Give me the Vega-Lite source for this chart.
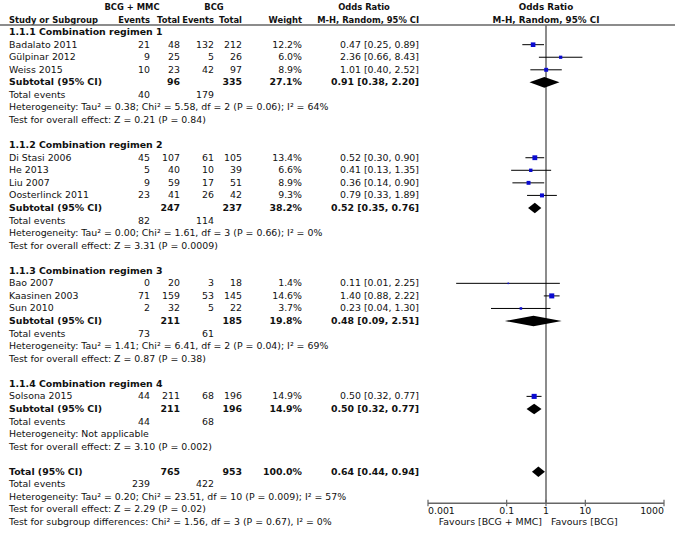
{
  "$schema": "https://vega.github.io/schema/vega-lite/v6.json",
  "width": 675,
  "height": 536,
  "padding": 0,
  "autosize": {"type": "none"},
  "background": "white",
  "config": {
    "view": {"stroke": null},
    "text": {"font": "DejaVu Sans", "fontSize": 9.4, "color": "#111"}
  },
  "datasets": {
    "rows": [
      {"row": 2, "type": "group", "label": "1.1.1 Combination regimen 1"},
      {"row": 3, "type": "study", "label": "Badalato 2011", "ev1": 21, "tot1": 48, "ev2": 132, "tot2": 212, "weight": 12.2, "or": 0.47, "lo": 0.25, "hi": 0.89},
      {"row": 4, "type": "study", "label": "Gülpinar 2012", "ev1": 9, "tot1": 25, "ev2": 5, "tot2": 26, "weight": 6.0, "or": 2.36, "lo": 0.66, "hi": 8.43},
      {"row": 5, "type": "study", "label": "Weiss 2015", "ev1": 10, "tot1": 23, "ev2": 42, "tot2": 97, "weight": 8.9, "or": 1.01, "lo": 0.40, "hi": 2.52},
      {"row": 6, "type": "subtotal", "label": "Subtotal (95% CI)", "tot1": 96, "tot2": 335, "weight": 27.1, "or": 0.91, "lo": 0.38, "hi": 2.20},
      {"row": 7, "type": "events", "label": "Total events", "ev1": 40, "ev2": 179},
      {"row": 8, "type": "note", "label": "Heterogeneity: Tau² = 0.38; Chi² = 5.58, df = 2 (P = 0.06); I² = 64%"},
      {"row": 9, "type": "note", "label": "Test for overall effect: Z = 0.21 (P = 0.84)"},
      {"row": 11, "type": "group", "label": "1.1.2 Combination regimen 2"},
      {"row": 12, "type": "study", "label": "Di Stasi 2006", "ev1": 45, "tot1": 107, "ev2": 61, "tot2": 105, "weight": 13.4, "or": 0.52, "lo": 0.30, "hi": 0.90},
      {"row": 13, "type": "study", "label": "He 2013", "ev1": 5, "tot1": 40, "ev2": 10, "tot2": 39, "weight": 6.6, "or": 0.41, "lo": 0.13, "hi": 1.35},
      {"row": 14, "type": "study", "label": "Liu 2007", "ev1": 9, "tot1": 59, "ev2": 17, "tot2": 51, "weight": 8.9, "or": 0.36, "lo": 0.14, "hi": 0.90},
      {"row": 15, "type": "study", "label": "Oosterlinck 2011", "ev1": 23, "tot1": 41, "ev2": 26, "tot2": 42, "weight": 9.3, "or": 0.79, "lo": 0.33, "hi": 1.89},
      {"row": 16, "type": "subtotal", "label": "Subtotal (95% CI)", "tot1": 247, "tot2": 237, "weight": 38.2, "or": 0.52, "lo": 0.35, "hi": 0.76},
      {"row": 17, "type": "events", "label": "Total events", "ev1": 82, "ev2": 114},
      {"row": 18, "type": "note", "label": "Heterogeneity: Tau² = 0.00; Chi² = 1.61, df = 3 (P = 0.66); I² = 0%"},
      {"row": 19, "type": "note", "label": "Test for overall effect: Z = 3.31 (P = 0.0009)"},
      {"row": 21, "type": "group", "label": "1.1.3 Combination regimen 3"},
      {"row": 22, "type": "study", "label": "Bao 2007", "ev1": 0, "tot1": 20, "ev2": 3, "tot2": 18, "weight": 1.4, "or": 0.11, "lo": 0.0052, "hi": 2.25},
      {"row": 23, "type": "study", "label": "Kaasinen 2003", "ev1": 71, "tot1": 159, "ev2": 53, "tot2": 145, "weight": 14.6, "or": 1.40, "lo": 0.88, "hi": 2.22},
      {"row": 24, "type": "study", "label": "Sun 2010", "ev1": 2, "tot1": 32, "ev2": 5, "tot2": 22, "weight": 3.7, "or": 0.23, "lo": 0.04, "hi": 1.30},
      {"row": 25, "type": "subtotal", "label": "Subtotal (95% CI)", "tot1": 211, "tot2": 185, "weight": 19.8, "or": 0.48, "lo": 0.09, "hi": 2.51},
      {"row": 26, "type": "events", "label": "Total events", "ev1": 73, "ev2": 61},
      {"row": 27, "type": "note", "label": "Heterogeneity: Tau² = 1.41; Chi² = 6.41, df = 2 (P = 0.04); I² = 69%"},
      {"row": 28, "type": "note", "label": "Test for overall effect: Z = 0.87 (P = 0.38)"},
      {"row": 30, "type": "group", "label": "1.1.4 Combination regimen 4"},
      {"row": 31, "type": "study", "label": "Solsona 2015", "ev1": 44, "tot1": 211, "ev2": 68, "tot2": 196, "weight": 14.9, "or": 0.50, "lo": 0.32, "hi": 0.77},
      {"row": 32, "type": "subtotal", "label": "Subtotal (95% CI)", "tot1": 211, "tot2": 196, "weight": 14.9, "or": 0.50, "lo": 0.32, "hi": 0.77},
      {"row": 33, "type": "events", "label": "Total events", "ev1": 44, "ev2": 68},
      {"row": 34, "type": "note", "label": "Heterogeneity: Not applicable"},
      {"row": 35, "type": "note", "label": "Test for overall effect: Z = 3.10 (P = 0.002)"},
      {"row": 37, "type": "total", "label": "Total (95% CI)", "tot1": 765, "tot2": 953, "weight": 100.0, "or": 0.64, "lo": 0.44, "hi": 0.94},
      {"row": 38, "type": "events", "label": "Total events", "ev1": 239, "ev2": 422},
      {"row": 39, "type": "note", "label": "Heterogeneity: Tau² = 0.20; Chi² = 23.51, df = 10 (P = 0.009); I² = 57%"},
      {"row": 40, "type": "note", "label": "Test for overall effect: Z = 2.29 (P = 0.02)"},
      {"row": 41, "type": "note", "label": "Test for subgroup differences: Chi² = 1.56, df = 3 (P = 0.67), I² = 0%"}
    ],
    "headers": [
      {"row": 0, "col": 1, "text": "BCG + MMC"},
      {"row": 0, "col": 4, "text": "BCG"},
      {"row": 0, "col": 7, "text": "Odds Ratio"},
      {"row": 1, "col": 0, "text": "Study or Subgroup"},
      {"row": 1, "col": 2, "text": "Events"},
      {"row": 1, "col": 3, "text": "Total"},
      {"row": 1, "col": 4, "text": "Events"},
      {"row": 1, "col": 5, "text": "Total"},
      {"row": 1, "col": 6, "text": "Weight"},
      {"row": 1, "col": 8, "text": "M-H, Random, 95% CI"}
    ],
    "plotHeaders": [
      {"row": 0, "text": "Odds Ratio"},
      {"row": 1, "text": "M-H, Random, 95% CI"}
    ],
    "ticks": [
      {"value": 0.001, "label": "0.001"},
      {"value": 0.1, "label": "0.1"},
      {"value": 1, "label": "1"},
      {"value": 10, "label": "10"},
      {"value": 1000, "label": "1000"}
    ],
    "favours": [
      {"side": "left", "label": "Favours [BCG + MMC]"},
      {"side": "right", "label": "Favours [BCG]"}
    ]
  },
  "resolve": {"scale": {"x": "independent"}},
  "layer": [
    {
      "layer": [
        {
          "data": {"name": "headers"},
          "mark": {"type": "text", "fontWeight": "bold", "fontSize": 8.4, "align": {"expr": "datum.row === 0 ? 'center' : datum.col === 0 ? 'left' : 'right'"}},
          "encoding": {
            "x": {"field": "col", "type": "quantitative", "scale": {"domain": [0, 1, 2, 3, 4, 5, 6, 7, 8], "range": [9, 132, 150, 180, 214, 242, 302, 364, 419], "nice": false, "zero": false}, "axis": null},
            "y": {"field": "row", "type": "quantitative", "scale": {"domain": [0, 41], "range": [7, 522], "nice": false, "zero": false}, "axis": null},
            "text": {"field": "text"}
          }
        },
        {
          "data": {"name": "rows"},
          "mark": {"type": "text", "align": "left", "fontWeight": {"expr": "datum.type === 'group' || datum.type === 'subtotal' || datum.type === 'total' ? 'bold' : 'normal'"}},
          "encoding": {
            "x": {"datum": 0, "type": "quantitative", "axis": null},
            "y": {"field": "row", "type": "quantitative", "axis": null},
            "text": {"field": "label"}
          }
        },
        {
          "data": {"name": "rows"},
          "transform": [{"filter": {"field": "ev1", "valid": true}}],
          "mark": {"type": "text", "align": "right"},
          "encoding": {
            "x": {"datum": 2, "type": "quantitative", "axis": null},
            "y": {"field": "row", "type": "quantitative", "axis": null},
            "text": {"field": "ev1", "type": "nominal"}
          }
        },
        {
          "data": {"name": "rows"},
          "transform": [{"filter": {"field": "tot1", "valid": true}}],
          "mark": {"type": "text", "align": "right", "fontWeight": {"expr": "datum.type === 'group' || datum.type === 'subtotal' || datum.type === 'total' ? 'bold' : 'normal'"}},
          "encoding": {
            "x": {"datum": 3, "type": "quantitative", "axis": null},
            "y": {"field": "row", "type": "quantitative", "axis": null},
            "text": {"field": "tot1", "type": "nominal"}
          }
        },
        {
          "data": {"name": "rows"},
          "transform": [{"filter": {"field": "ev2", "valid": true}}],
          "mark": {"type": "text", "align": "right"},
          "encoding": {
            "x": {"datum": 4, "type": "quantitative", "axis": null},
            "y": {"field": "row", "type": "quantitative", "axis": null},
            "text": {"field": "ev2", "type": "nominal"}
          }
        },
        {
          "data": {"name": "rows"},
          "transform": [{"filter": {"field": "tot2", "valid": true}}],
          "mark": {"type": "text", "align": "right", "fontWeight": {"expr": "datum.type === 'group' || datum.type === 'subtotal' || datum.type === 'total' ? 'bold' : 'normal'"}},
          "encoding": {
            "x": {"datum": 5, "type": "quantitative", "axis": null},
            "y": {"field": "row", "type": "quantitative", "axis": null},
            "text": {"field": "tot2", "type": "nominal"}
          }
        },
        {
          "data": {"name": "rows"},
          "transform": [
            {"filter": {"field": "weight", "valid": true}},
            {"calculate": "format(datum.weight, '.1f') + '%'", "as": "wtxt"}
          ],
          "mark": {"type": "text", "align": "right", "fontWeight": {"expr": "datum.type === 'group' || datum.type === 'subtotal' || datum.type === 'total' ? 'bold' : 'normal'"}},
          "encoding": {
            "x": {"datum": 6, "type": "quantitative", "axis": null},
            "y": {"field": "row", "type": "quantitative", "axis": null},
            "text": {"field": "wtxt", "type": "nominal"}
          }
        },
        {
          "data": {"name": "rows"},
          "transform": [
            {"filter": {"field": "or", "valid": true}},
            {"calculate": "format(datum.or, '.2f') + ' [' + format(datum.lo, '.2f') + ', ' + format(datum.hi, '.2f') + ']'", "as": "ortxt"}
          ],
          "mark": {"type": "text", "align": "right", "fontWeight": {"expr": "datum.type === 'group' || datum.type === 'subtotal' || datum.type === 'total' ? 'bold' : 'normal'"}},
          "encoding": {
            "x": {"datum": 8, "type": "quantitative", "axis": null},
            "y": {"field": "row", "type": "quantitative", "axis": null},
            "text": {"field": "ortxt", "type": "nominal"}
          }
        }
      ]
    },
    {
      "layer": [
        {
          "data": {"values": [{}]},
          "mark": {"type": "rule", "color": "#666", "strokeWidth": 1.5},
          "encoding": {
            "y": {"datum": 1.43, "type": "quantitative", "axis": null}
          }
        },
        {
          "data": {"values": [{}]},
          "mark": {"type": "rule", "color": "#666", "strokeWidth": 1.5},
          "encoding": {
            "x": {"datum": 1, "type": "quantitative", "scale": {"type": "log", "domain": [0.001, 1000], "range": [428, 664], "nice": false}, "axis": null},
            "y": {"datum": 1.43, "type": "quantitative", "axis": null},
            "y2": {"datum": 39.5}
          }
        },
        {
          "data": {"values": [{}]},
          "mark": {"type": "rule", "color": "#666", "strokeWidth": 1.5},
          "encoding": {
            "x": {"datum": 0.001, "type": "quantitative", "axis": null},
            "x2": {"datum": 1000},
            "y": {"datum": 39.5, "type": "quantitative", "axis": null}
          }
        },
        {
          "data": {"name": "ticks"},
          "mark": {"type": "rule", "color": "#666", "strokeWidth": 1.2},
          "encoding": {
            "x": {"field": "value", "type": "quantitative", "axis": null},
            "y": {"datum": 39.22, "type": "quantitative", "axis": null},
            "y2": {"datum": 39.75}
          }
        },
        {
          "data": {"name": "ticks"},
          "mark": {"type": "text", "align": {"expr": "datum.value === 0.001 ? 'left' : datum.value === 1000 ? 'right' : 'center'"}},
          "encoding": {
            "x": {"field": "value", "type": "quantitative", "axis": null},
            "y": {"datum": 40.15, "type": "quantitative", "axis": null},
            "text": {"field": "label"}
          }
        },
        {
          "data": {"name": "favours"},
          "mark": {"type": "text", "align": {"expr": "datum.side === 'left' ? 'right' : 'left'"}, "dx": {"expr": "datum.side === 'left' ? -4 : 5"}},
          "encoding": {
            "x": {"datum": 1, "type": "quantitative", "axis": null},
            "y": {"datum": 41, "type": "quantitative", "axis": null},
            "text": {"field": "label"}
          }
        },
        {
          "data": {"name": "plotHeaders"},
          "mark": {"type": "text", "align": "center", "fontWeight": "bold", "fontSize": 8.8},
          "encoding": {
            "x": {"datum": 1, "type": "quantitative", "axis": null},
            "y": {"field": "row", "type": "quantitative", "axis": null},
            "text": {"field": "text"}
          }
        },
        {
          "data": {"name": "rows"},
          "transform": [{"filter": "datum.type === 'study'"}],
          "mark": {"type": "rule", "color": "#000", "strokeWidth": 1},
          "encoding": {
            "x": {"field": "lo", "type": "quantitative", "axis": null},
            "x2": {"field": "hi"},
            "y": {"field": "row", "type": "quantitative", "axis": null}
          }
        },
        {
          "data": {"name": "rows"},
          "transform": [{"filter": "datum.type === 'study'"}],
          "mark": {"type": "point", "shape": "square", "filled": true, "color": "#0a0ad0", "opacity": 1},
          "encoding": {
            "x": {"field": "or", "type": "quantitative", "axis": null},
            "y": {"field": "row", "type": "quantitative", "axis": null},
            "size": {"field": "weight", "type": "quantitative", "scale": {"domain": [0, 15], "range": [0, 26]}, "legend": null}
          }
        },
        {
          "data": {"name": "rows"},
          "transform": [
            {"filter": "datum.type === 'subtotal' || datum.type === 'total'"},
            {"fold": ["lo", "or", "hi"], "as": ["k", "v"]},
            {"calculate": "datum.row - (datum.k === 'or' ? 0.42 : 0)", "as": "yt"},
            {"calculate": "datum.row + (datum.k === 'or' ? 0.42 : 0)", "as": "yb"}
          ],
          "mark": {"type": "area", "orient": "vertical", "color": "#000", "opacity": 1},
          "encoding": {
            "x": {"field": "v", "type": "quantitative", "axis": null},
            "y": {"field": "yt", "type": "quantitative", "axis": null},
            "y2": {"field": "yb"},
            "detail": {"field": "row", "type": "nominal"}
          }
        }
      ]
    }
  ]
}
